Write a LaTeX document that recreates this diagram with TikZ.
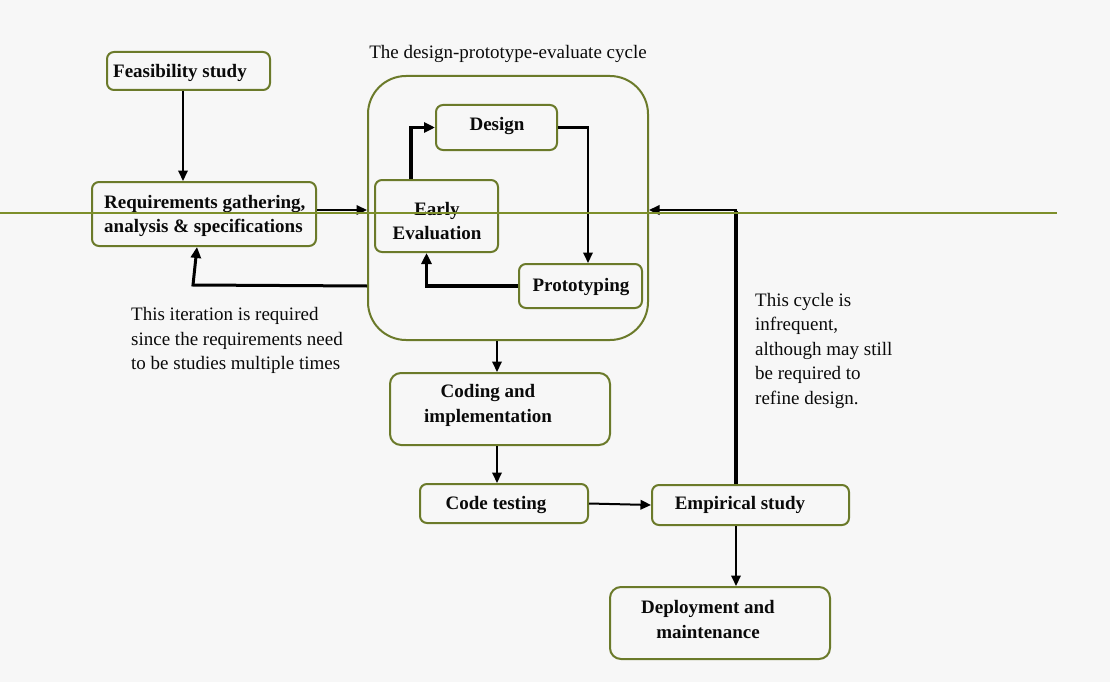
\documentclass[tikz,border=0pt]{standalone}
\usepackage{fontspec}
\setmainfont{Liberation Serif}
\usetikzlibrary{arrows.meta}
\definecolor{olivebox}{HTML}{6B7A2A}
\definecolor{oliveline}{HTML}{7D8F2A}
\definecolor{bgc}{HTML}{F7F7F7}
\definecolor{ink}{HTML}{0A0A0A}
\begin{document}
\begin{tikzpicture}[x=1pt,y=-1pt,
  box/.style={draw=olivebox, line width=2pt, rounded corners=7pt, inner sep=0pt},
  bigbox/.style={box, rounded corners=11pt},
  cyclebox/.style={box, rounded corners=38pt},
  lbl/.style={font=\fontsize{19}{24.5}\selectfont\bfseries, text=ink, inner sep=0pt},
  note/.style={font=\fontsize{19}{24.5}\selectfont, text=ink, inner sep=0pt, align=left},
  arr/.style={draw=black, line width=2pt, -{Triangle[length=10.5pt,width=9.5pt]}},
  tarr/.style={arr, line width=3.5pt, -{Triangle[length=11pt,width=10pt]}},
]
\useasboundingbox (0,0) rectangle (1110,682);
\fill[bgc] (0,0) rectangle (1110,682);

% boxes
\node[box, minimum width=163, minimum height=38] (feas) at (188.5,71) {};
\node[box, minimum width=224, minimum height=64] (req) at (204,214) {};
\node[cyclebox, minimum width=280, minimum height=264] (cycle) at (508,208) {};
\node[box, minimum width=121, minimum height=45] (design) at (496.5,127.5) {};
\node[box, minimum width=123, minimum height=72] (early) at (436.5,216) {};
\node[box, minimum width=123, minimum height=44] (proto) at (580.5,286) {};
\node[bigbox, minimum width=220, minimum height=72] (coding) at (500,409) {};
\node[box, minimum width=168, minimum height=39] (test) at (504,503.5) {};
\node[box, minimum width=197, minimum height=40] (emp) at (750.5,505) {};
\node[bigbox, minimum width=220, minimum height=72] (deploy) at (720,623) {};

% labels
\node[note, anchor=center] (title) at (508,53.5) {The design-prototype-evaluate cycle};
\node[lbl, anchor=west] (feasT) at (113,73) {Feasibility study};
\node[lbl, anchor=west, align=left] (reqT) at (104,216) {Requirements gathering,\\analysis \& specifications};
\node[lbl] (designT) at (497,126) {Design};
\node[lbl, align=center] (earlyT) at (437,221) {Early\\Evaluation};
\node[lbl] (protoT) at (581,287) {Prototyping};
\node[lbl, align=center] (codingT) at (488,405.5) {Coding and\\implementation};
\node[lbl] (testT) at (496,505) {Code testing};
\node[lbl] (empT) at (740,505) {Empirical study};
\node[lbl, align=center] (deployT) at (708,619.5) {Deployment and\\maintenance};
\node[note, anchor=west] (iterT) at (131,340.5) {This iteration is required\\since the requirements need\\to be studies multiple times};
\node[note, anchor=west] (cycT) at (755,350.5) {This cycle is\\infrequent,\\although may still\\be required to\\refine design.};

% connectors
\draw[arr] ([xshift=-5.5]feas.south) -- ([xshift=-5.5]feas.south |- req.north);
\coordinate (reqOut) at ([yshift=4pt]req.east);
\draw[arr] (reqOut) -- (cycle.west |- reqOut);
\coordinate (backA) at (cycle.west |- proto.west);
\coordinate (backB) at (193,285);
\draw[tarr, line width=3pt] (backA) -- (backB) -- ([xshift=-7]req.south);
\draw[tarr] ([xshift=-25.5]early.north) |- (design.west);
\draw[arr] (design.east) -| ([xshift=7.5]proto.north);
\draw[tarr] (proto.west) -| ([xshift=-10]early.south);
\draw[arr] ([xshift=-11]cycle.south) -- ([xshift=-3]coding.north);
\draw[arr] ([xshift=-3]coding.south) -- ([xshift=-3]coding.south |- test.north);
\draw[arr] (test.east) -- (emp.west);
\draw[arr] ([xshift=-14.5]emp.south) -- ([xshift=-14.5]emp.south |- deploy.north);
\coordinate (turn) at (736,210);
\draw[line width=4pt] ([xshift=-14.5]emp.north) -- ([yshift=-1pt]turn);
\draw[arr] ([xshift=1pt]turn) -- (cycle.east |- turn);

% stray horizontal line
\draw[oliveline, line width=1.5pt] (0,213) -- (1057,213);
\end{tikzpicture}
\end{document}
